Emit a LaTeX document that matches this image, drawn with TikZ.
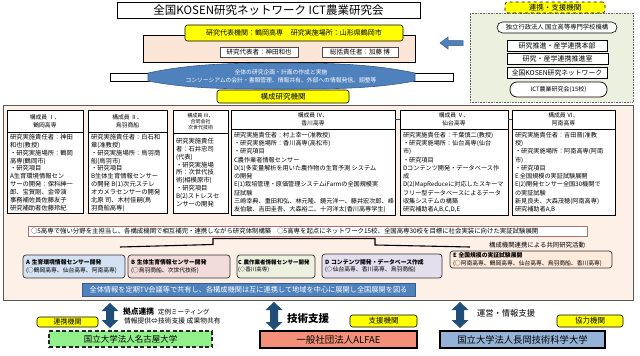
\documentclass[tikz,border=0pt]{standalone}
\usepackage{fontspec}
\setmainfont{Noto Sans CJK JP}
\definecolor{peach}{HTML}{FBE5D6}
\definecolor{framefill}{HTML}{FDF0E7}
\definecolor{ylw}{HTML}{FFFF00}
\definecolor{lgreen}{HTML}{EBF1DE}
\definecolor{bandblue}{HTML}{4F81BD}
\definecolor{bandedge}{HTML}{385D8A}
\definecolor{navy}{HTML}{1F4E79}
\definecolor{boxA}{HTML}{D3E1F3}
\definecolor{boxB}{HTML}{F2DCDB}
\definecolor{boxC}{HTML}{EBF1DE}
\definecolor{boxD}{HTML}{E4DFEC}
\definecolor{boxE}{HTML}{FDEADA}
\definecolor{nagoyag}{HTML}{92F08A}
\definecolor{alfaec}{HTML}{F4907A}
\definecolor{nagaokab}{HTML}{95B3D7}
\definecolor{stripedge}{HTML}{B07070}
\newcommand\fz[2]{\fontsize{#1}{#2}\selectfont}
\newcommand\vdarrow[3]{\fill[navy] (#1,#2) -- (#1+8.5,#2+8) -- (#1+4,#2+8) -- (#1+4,#3-8) -- (#1+8.5,#3-8) -- (#1,#3) -- (#1-8.5,#3-8) -- (#1-4,#3-8) -- (#1-4,#2+8) -- (#1-8.5,#2+8) -- cycle;}
\begin{document}
\begin{tikzpicture}[x=1pt,y=-1pt,
  every node/.style={inner sep=0pt,outer sep=0pt},
  nw/.style={anchor=north west},
  plainbox/.style={draw=black,line width=0.6pt,fill=white,nw},
  ylwbox/.style={draw=black,line width=0.6pt,fill=ylw,rounded corners=2.5pt,nw},
  mem/.style={draw=black,line width=0.7pt,fill=white,nw},
  body/.style={nw,align=left,font=\fz{6.3}{7.9}},
  bodyw/.style={nw,align=left,font=\fz{6.15}{8.3}},
  head/.style={align=center,font=\fz{5.8}{8}},
  catbox/.style={draw=black!80,line width=0.7pt,rounded corners=3pt,nw,align=left,inner xsep=3pt,font=\fz{5.8}{7.2}}
]
\useasboundingbox (0,0) rectangle (640,356);
\fill[white] (0,0) rectangle (640,356);

% title
\node[plainbox,minimum width=303,minimum height=16,font=\fz{11.5}{13}] (title) at (117,2) {全国KOSEN研究ネットワーク ICT農業研究会};

% representative
\node[draw=black,line width=0.6pt,fill=peach,nw,minimum width=272,minimum height=27] (rep) at (143,35) {};
\node[ylwbox,minimum width=218,minimum height=16,font=\fz{7}{8}] (repinst) at (185,25) {研究代表機関：鶴岡高専\hspace{8pt}研究実施場所：山形県鶴岡市};
\node[plainbox,draw=black!70,minimum width=78,minimum height=10,font=\fz{6.5}{7}] (kanda) at (220,47) {研究代表者：神田和也};
\node[plainbox,draw=black!70,minimum width=76,minimum height=10,font=\fz{6.5}{7}] (kato) at (322,47) {総括責任者：加藤\ 博};

% support column
\node[draw=black!60,densely dotted,line width=0.6pt,fill=lgreen,nw,minimum width=163,minimum height=89] (support) at (470,13) {};
\node[ylwbox,dashed,minimum width=100,minimum height=11,font=\fz{7.5}{8}] (supplabel) at (505,2) {連携・支援機関};
\node[draw=black,line width=0.6pt,fill=white,rounded corners=5.5pt,nw,minimum width=120,minimum height=11,font=\fz{6.3}{7}] (kosenorg) at (497,22) {独立行政法人\ 国立高等専門学校機構};
\node[plainbox,minimum width=100,minimum height=11,font=\fz{7}{8}] (hq) at (507,40) {研究推進・産学連携本部};
\node[plainbox,minimum width=101,minimum height=11,font=\fz{7}{8}] (office) at (507,53) {研究・産学連携推進室};
\node[plainbox,minimum width=100,minimum height=11,font=\fz{6.8}{8}] (net) at (507,67) {全国KOSEN研究ネットワーク};
\node[draw=black,line width=0.7pt,fill=white,rounded corners=7pt,nw,minimum width=97,minimum height=15,font=\fz{6}{7}] (ict) at (510,82) {ICT農業研究会(15校)};

% left arrow
\draw[bandedge,fill=bandblue,line width=0.5pt] (440,43) -- (448,37) -- (448,40.5) -- (463,40.5) -- (463,45.5) -- (448,45.5) -- (448,49) -- cycle;

% band
\draw[black,line width=0.6pt,fill=white] (110,73) rectangle (150,81);
\draw[black,line width=0.6pt,fill=white] (413,73) rectangle (453,81);
\draw[bandedge,line width=0.6pt,fill=bandblue] (148,73) .. controls (190,64) and (230,63) .. (281,63) .. controls (332,63) and (372,64) .. (415,73) -- (415,81) .. controls (372,89) and (332,89) .. (281,89) .. controls (230,89) and (190,89) .. (148,81) -- cycle;
\node[font=\fz{5.8}{8.2},text=white,align=center] (band) at (281,76) {全体の研究企画・計画の作成と実施\\コンソーシアムの会計・書類管理、情報共有、外部への情報発信、調整等};

% frame
\node[draw=black!65,line width=0.8pt,fill=framefill,nw,minimum width=630,minimum height=195] (frame) at (3,105) {};
\node[ylwbox,minimum width=132,minimum height=13,font=\fz{7.5}{8}] (members) at (217,90) {構成研究機関};

% member I
\node[mem,minimum width=76,minimum height=22,head] (m1h) at (7,110) {構成員 Ⅰ、\\鶴岡高専};
\node[mem,minimum width=76,minimum height=81] (m1b) at (7,132) {};
\node[body] (m1t) at (10,134) {研究実施責任者：神田\\和也(教授)\\・研究実施場所：鶴岡\\高専(鶴岡市)\\・研究項目\\A生育環境情報セン\\サーの開発：保科紳一\\郎、宝賀剛、金帝演\\事務補佐員佐藤友子\\研究補助者佐藤玲紀};

% member II
\node[mem,minimum width=79,minimum height=22,head] (m2h) at (88,110) {構成員 Ⅱ、\\鳥羽商船};
\node[mem,minimum width=79,minimum height=81] (m2b) at (88,132) {};
\node[body] (m2t) at (91,134) {研究実施責任者：白石和\\章(准教授)\\・研究実施場所：鳥羽商\\船(鳥羽市)\\・研究項目\\B生体生育情報センサー\\の開発 B(1)次元ステレ\\オカメラセンサーの開発\\北原\ 司、木村佳嗣(鳥\\羽商船高専)};

% member III
\node[mem,minimum width=55,minimum height=23,align=center,font=\fz{5}{5.8}] (m3h) at (173,110) {構成員 Ⅲ、\\合同会社\\次世代技術};
\node[mem,minimum width=55,minimum height=80] (m3b) at (173,133) {};
\node[body] (m3t) at (176,138) {研究実施責任\\者：石井忠司\\(代表)\\・研究実施場\\所：次世代技\\術(相模原市)\\・研究項目\\B(2)ストレスセ\\ンサーの開発};

% member IV
\node[mem,minimum width=164,minimum height=19,head] (m4h) at (231,110) {構成員 Ⅳ、\\香川高専};
\node[mem,minimum width=164,minimum height=86] (m4b) at (231,129) {};
\node[bodyw] (m4t) at (234,132) {研究実施責任者：村上幸一(准教授)\\・研究実施場所：香川高専(高松市)\\・研究項目\\C農作業者情報センサー\\D(1)多変量解析を用いた農作物の生育予測\ システム\\の開発\\E(1)栽培管理・原価管理システムiFarmの全国規模実\\証試験\\三崎幸典、重田和弘、林元隆、鏡元洋一、藤井宏次郎、峰\\友伯敏、吉田圭吾、大森裕二、十河洋太(香川高専学生)};

% member V
\node[mem,minimum width=108,minimum height=19,head] (m5h) at (400,110) {構成員 Ⅴ、\\仙台高専};
\node[mem,minimum width=108,minimum height=86] (m5b) at (400,129) {};
\node[bodyw] (m5t) at (403,132) {研究実施責任者：千葉慎二(教授)\\・研究実施場所：仙台高専(仙台\\市)\\・研究項目\\Dコンテンツ開発・データベース作\\成\\D(2)MapReduceに対応したスキーマ\\フリー型データベースによるデータ\\収集システムの構築\\研究補助者A,B,C,D,E};

% member VI
\node[mem,minimum width=103,minimum height=19,head] (m6h) at (512,110) {構成員 Ⅵ、\\阿南高専};
\node[mem,minimum width=103,minimum height=86] (m6b) at (512,129) {};
\node[bodyw] (m6t) at (515,132) {研究実施責任者：吉田晋(准教\\授)\\・研究実施場所：阿南高専(阿南\\市)\\・研究項目\\E 全国規模の実証試験展開\\E(2)開発センサー全国30機関で\\の実証試験\\新見良夫、大森茂穂(阿南高専)\\研究補助者A,B};

\draw[navy,line width=1.5pt] (m4h.east) -- (m5h.west);
\draw[navy,line width=1.5pt] (m5h.east) -- (m6h.west);

% strip
\node[draw=stripedge,line width=0.6pt,fill=white,nw,minimum height=10,text width=553,inner xsep=3pt,align=left,font=\fz{6.4}{7}] (strip) at (28,226) {○5高専で強い分野を主担当し、各構成機関で相互補完・連携しながら研究体制構築\hspace{6pt}○5高専を起点にネットワーク15校、全国高専30校を目標に社会実装に向けた実証試験展開};

% bracket
\draw[line width=1.1pt] (120,247) -- (213,244.5) -- (213,238.5) -- (375,238.5) -- (375,245) -- (470,247);
\node[font=\fz{6.4}{7}] (joint) at (537,245) {構成機関連携による共同研究活動};

% research categories
\node[catbox,fill=boxA,minimum width=102,minimum height=23,text width=96] (A) at (23,255) {\textbf{A 生育環境情報センサー開発}\\(○鶴岡高専、仙台高専、阿南高専)};
\node[catbox,fill=boxB,minimum width=102,minimum height=23,text width=96] (B) at (128,255) {\textbf{B 生体生育情報センサー開発}\\(○鳥羽商船、次世代技術)};
\node[catbox,fill=boxC,minimum width=78,minimum height=23,text width=76,inner xsep=1pt,font=\fz{5.5}{7.2}] (C) at (237,255) {\textbf{C 農作業者情報センサー開発}\\(◇香川高専)};
\node[catbox,fill=boxD,minimum width=120,minimum height=24,text width=114] (D) at (322,254) {\textbf{D コンテンツ開発・データベース作成}\\(◇仙台高専、香川高専、鳥羽商船)};
\node[catbox,fill=boxE,minimum width=162,minimum height=17,text width=156] (E) at (450,251) {\textbf{E 全国規模の実証試験展開}\\(○阿南高専、鶴岡高専、仙台高専、鳥羽商船、香川高専)};

% share bar
\node[draw=bandedge,line width=0.6pt,fill=bandblue,nw,minimum width=333,minimum height=13,text=white,font=\fz{7.2}{8}] (share) at (82,283) {全体情報を定期TV会議等で共有し、各構成機関は互に連携して地域を中心に展開し全国展開を図る};

% bottom partners
\vdarrow{110}{303}{328}
\vdarrow{274}{302}{330}
\vdarrow{460}{302}{328}
\node[nw,font=\bfseries\fz{7.8}{9}] (kyoten) at (123,308) {拠点連携};
\node[nw,font=\fz{6.5}{8}] (teirei) at (158,309) {定例ミーティング};
\node[nw,font=\fz{6.8}{8}] (joho) at (124,318) {情報提供⇔技術支援\ 成果物共有};
\node[nw,font=\bfseries\fz{10.5}{12}] (gijutsu) at (287,314) {技術支援};
\node[nw,font=\fz{8.3}{9}] (unei) at (477,310) {運営・情報支援};

\node[ylwbox,minimum width=61,minimum height=10,font=\fz{7}{8}] (lab1) at (37,317) {連携機関};
\node[draw=black!85,line width=1.5pt,dash pattern=on 4pt off 2.5pt,fill=nagoyag,nw,minimum width=163,minimum height=16,font=\fz{8.5}{9}] (nagoya) at (49,331) {国立大学法人名古屋大学};
\node[ylwbox,minimum width=67,minimum height=12,font=\fz{7.5}{8}] (lab2) at (350,315) {支援機関};
\node[draw=black,line width=1.3pt,fill=alfaec,nw,minimum width=157,minimum height=17,font=\fz{9.5}{10}] (alfae) at (260,331) {一般社団法人ALFAE};
\node[ylwbox,minimum width=66,minimum height=12,font=\fz{7.5}{8}] (lab3) at (557,315) {協力機関};
\node[draw=black,line width=1.3pt,fill=nagaokab,nw,minimum width=165,minimum height=17,font=\fz{9.3}{10}] (nagaoka) at (440,331) {国立大学法人長岡技術科学大学};
\end{tikzpicture}
\end{document}
